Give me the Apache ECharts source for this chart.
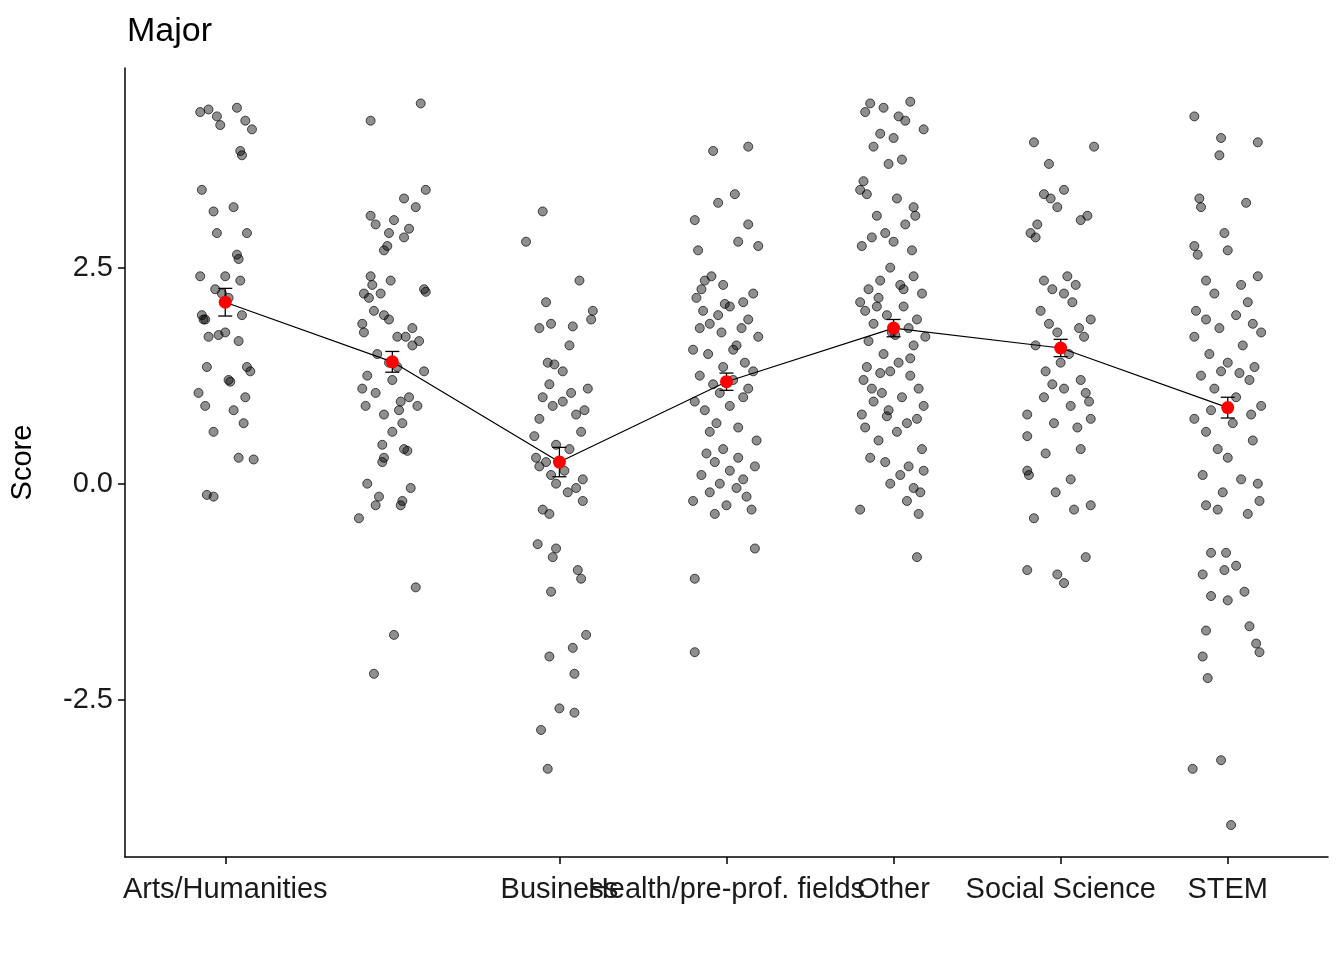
<!DOCTYPE html>
<html>
<head>
<meta charset="utf-8">
<script src="https://cdn.jsdelivr.net/npm/echarts@6/dist/echarts.min.js"></script>
<style>html,body{margin:0;background:#fff}#main{width:1344px;height:960px}</style>
</head>
<body>
<div id="main"></div>
<script>
const majors = ['Arts/Humanities', 'Biology/Life Sciences', 'Business', 'Health/pre-prof. fields', 'Other', 'Social Science', 'STEM'];
const means = [2.1, 1.41, 0.25, 1.18, 1.8, 1.57, 0.88];
const ses = [0.16, 0.12, 0.17, 0.1, 0.1, 0.1, 0.12];
const yTicks = [-2.5, 0, 2.5];

// [jitter offset, score] per major
const arts = [[-0.15,4.3],[-0.1,4.33],[-0.05,4.25],[0.07,4.35],[-0.03,4.15],[0.12,4.2],[0.16,4.1],[0.1,3.8],[0.09,3.85],[-0.14,3.4],[-0.07,3.15],[0.05,3.2],[-0.05,2.9],[0.13,2.9],[0.07,2.65],[0.08,2.6],[-0.15,2.4],[0.09,2.35],[-0.06,2.25],[-0.02,2.2],[0.02,2.15],[-0.14,1.95],[-0.13,1.9],[0.1,1.95],[-0.12,1.9],[0.0,1.75],[-0.1,1.7],[0.08,1.65],[-0.11,1.35],[0.13,1.35],[0.15,1.3],[0.02,1.2],[0.03,1.18],[-0.16,1.05],[0.12,1.0],[-0.12,0.9],[0.05,0.85],[0.11,0.7],[-0.07,0.6],[0.08,0.3],[0.17,0.28],[-0.11,-0.13],[-0.07,-0.15],[0.0,2.4],[-0.04,1.72]];
const bio = [[0.17,4.4],[-0.13,4.2],[0.2,3.4],[0.07,3.3],[0.14,3.2],[-0.13,3.1],[0.01,3.05],[-0.1,3.0],[0.1,2.95],[-0.02,2.9],[0.07,2.85],[-0.03,2.75],[-0.05,2.7],[-0.13,2.4],[-0.01,2.35],[-0.12,2.3],[0.19,2.25],[0.2,2.22],[-0.17,2.2],[-0.07,2.2],[-0.14,2.15],[-0.11,2.0],[-0.05,1.95],[-0.02,1.9],[-0.18,1.85],[0.12,1.8],[-0.17,1.75],[0.03,1.7],[0.08,1.7],[0.16,1.65],[0.12,1.6],[-0.09,1.5],[-0.02,1.4],[0.03,1.35],[0.19,1.3],[-0.15,1.25],[0.0,1.2],[-0.18,1.1],[-0.1,1.05],[0.1,1.0],[0.05,0.95],[-0.16,0.9],[0.15,0.9],[0.04,0.85],[-0.05,0.8],[0.06,0.7],[0.0,0.6],[-0.06,0.45],[0.07,0.4],[0.09,0.38],[-0.05,0.3],[-0.06,0.25],[-0.15,0.0],[0.11,-0.05],[-0.08,-0.15],[0.06,-0.2],[-0.1,-0.25],[0.05,-0.25],[-0.2,-0.4],[0.14,-1.2],[0.01,-1.75],[-0.11,-2.2]];
const business = [[-0.1,3.15],[-0.2,2.8],[0.12,2.35],[-0.08,2.1],[0.2,2.0],[0.19,1.9],[-0.05,1.85],[0.08,1.82],[-0.12,1.8],[0.06,1.6],[-0.07,1.4],[-0.03,1.38],[0.02,1.3],[-0.06,1.15],[0.17,1.1],[0.07,1.05],[-0.1,1.0],[0.02,0.95],[-0.04,0.9],[0.15,0.85],[0.1,0.8],[-0.12,0.75],[0.13,0.6],[-0.15,0.55],[-0.02,0.45],[0.06,0.4],[-0.14,0.3],[-0.08,0.25],[-0.12,0.2],[0.03,0.15],[-0.05,0.1],[0.14,0.05],[-0.02,0.0],[0.1,-0.05],[0.05,-0.1],[0.14,-0.2],[-0.1,-0.3],[-0.06,-0.35],[-0.13,-0.7],[-0.02,-0.75],[-0.04,-0.85],[0.11,-1.0],[0.13,-1.1],[-0.05,-1.25],[0.16,-1.75],[0.08,-1.9],[-0.06,-2.0],[0.09,-2.2],[0.0,-2.6],[0.09,-2.65],[-0.11,-2.85],[-0.07,-3.3]];
const health = [[-0.08,3.85],[0.13,3.9],[0.05,3.35],[-0.05,3.25],[-0.19,3.05],[0.13,3.0],[0.07,2.8],[0.19,2.75],[-0.17,2.7],[-0.09,2.4],[-0.13,2.35],[-0.02,2.3],[-0.15,2.25],[0.16,2.2],[-0.18,2.15],[0.1,2.1],[0.02,2.05],[-0.14,2.0],[-0.05,1.95],[0.13,1.9],[-0.1,1.85],[0.09,1.8],[-0.03,1.75],[0.19,1.7],[0.06,1.6],[-0.2,1.55],[-0.11,1.5],[0.11,1.4],[-0.02,1.35],[0.16,1.3],[-0.16,1.25],[0.04,1.2],[-0.08,1.15],[0.13,1.1],[-0.04,1.05],[0.1,1.0],[-0.19,0.95],[0.02,0.9],[-0.13,0.85],[-0.06,0.7],[0.07,0.65],[-0.1,0.6],[0.18,0.5],[-0.02,0.4],[-0.12,0.35],[0.07,0.3],[-0.07,0.25],[0.17,0.2],[0.02,0.15],[-0.15,0.1],[0.1,0.05],[-0.04,0.0],[0.06,-0.05],[-0.1,-0.1],[0.12,-0.15],[-0.2,-0.2],[0.0,-0.25],[0.15,-0.3],[-0.07,-0.35],[0.17,-0.75],[-0.19,-1.1],[-0.19,-1.95],[-0.01,2.08],[0.04,1.55],[-0.16,1.8]];
const other = [[-0.14,4.4],[0.1,4.42],[-0.06,4.35],[-0.17,4.3],[0.03,4.25],[0.07,4.2],[0.18,4.1],[-0.08,4.05],[0.0,4.0],[-0.12,3.9],[0.05,3.75],[-0.03,3.7],[-0.18,3.5],[-0.2,3.4],[-0.16,3.35],[0.02,3.3],[0.12,3.2],[-0.1,3.1],[0.07,3.0],[-0.05,2.9],[-0.13,2.85],[0.0,2.8],[-0.19,2.75],[0.11,2.7],[-0.02,2.5],[0.12,2.4],[-0.08,2.35],[0.04,2.3],[-0.15,2.25],[0.17,2.2],[-0.09,2.15],[-0.2,2.1],[0.06,2.05],[-0.17,2.0],[-0.04,1.95],[0.14,1.9],[-0.12,1.85],[0.09,1.8],[-0.01,1.75],[0.19,1.7],[-0.15,1.65],[0.12,1.6],[-0.06,1.5],[0.03,1.4],[-0.16,1.35],[-0.02,1.3],[0.1,1.25],[-0.18,1.2],[0.15,1.1],[-0.07,1.05],[0.05,1.0],[-0.12,0.95],[0.18,0.9],[-0.03,0.85],[-0.19,0.8],[0.14,0.75],[0.08,0.7],[-0.17,0.65],[0.02,0.6],[-0.09,0.5],[0.17,0.4],[-0.14,0.3],[-0.05,0.25],[0.09,0.2],[0.18,0.15],[0.04,0.1],[-0.02,0.0],[0.12,-0.05],[0.16,-0.1],[0.08,-0.2],[-0.2,-0.3],[0.15,-0.35],[0.14,-0.85],[-0.1,2.05],[0.01,1.72],[0.1,1.45],[-0.13,1.1],[0.06,2.25],[-0.04,0.78],[0.13,3.1],[-0.08,1.28]];
const social = [[-0.16,3.95],[0.2,3.9],[-0.07,3.7],[0.02,3.4],[-0.1,3.35],[-0.06,3.3],[-0.02,3.2],[0.16,3.1],[0.12,3.05],[-0.14,3.0],[-0.18,2.9],[-0.15,2.85],[0.04,2.4],[-0.1,2.35],[0.09,2.3],[-0.05,2.25],[0.02,2.2],[0.07,2.1],[-0.12,2.0],[0.18,1.9],[-0.07,1.85],[0.11,1.8],[-0.02,1.75],[0.14,1.7],[-0.15,1.6],[0.05,1.5],[0.0,1.4],[-0.09,1.3],[0.12,1.2],[-0.05,1.15],[0.02,1.1],[0.15,1.05],[-0.1,1.0],[0.17,0.95],[0.06,0.9],[-0.2,0.8],[0.18,0.75],[-0.04,0.7],[0.1,0.65],[-0.2,0.55],[0.12,0.4],[-0.09,0.35],[-0.2,0.15],[-0.19,0.1],[0.06,0.05],[-0.03,-0.1],[0.18,-0.25],[0.08,-0.3],[-0.16,-0.4],[0.15,-0.85],[-0.2,-1.0],[-0.02,-1.05],[0.02,-1.15]];
const stem = [[-0.2,4.25],[-0.04,4.0],[-0.05,3.8],[0.18,3.95],[-0.17,3.3],[0.11,3.25],[-0.16,3.2],[-0.02,2.9],[-0.2,2.75],[0.0,2.7],[-0.18,2.65],[0.18,2.4],[-0.13,2.35],[0.08,2.3],[-0.08,2.2],[0.12,2.1],[-0.19,2.0],[0.05,1.95],[-0.13,1.9],[0.15,1.85],[-0.05,1.8],[0.2,1.75],[-0.2,1.7],[0.09,1.6],[-0.11,1.5],[0.0,1.4],[0.16,1.35],[-0.04,1.3],[0.07,1.28],[-0.16,1.25],[0.13,1.2],[-0.08,1.1],[0.05,1.0],[0.2,0.9],[-0.1,0.85],[0.14,0.8],[-0.2,0.75],[0.03,0.7],[-0.13,0.6],[0.15,0.5],[-0.06,0.4],[0.0,0.3],[-0.15,0.1],[0.08,0.05],[0.18,0.0],[-0.03,-0.1],[0.19,-0.2],[-0.13,-0.25],[-0.06,-0.3],[0.12,-0.35],[-0.1,-0.8],[-0.01,-0.8],[0.05,-0.95],[-0.02,-1.0],[-0.15,-1.05],[0.1,-1.25],[-0.1,-1.3],[0.0,-1.35],[0.13,-1.65],[-0.13,-1.7],[0.17,-1.85],[0.19,-1.95],[-0.15,-2.0],[-0.12,-2.25],[-0.04,-3.2],[-0.21,-3.3],[0.02,-3.95]];

const groups = [arts, bio, business, health, other, social, stem];
const jitterData = [];
groups.forEach((g, i) => g.forEach(p => jitterData.push([i + p[0], p[1]])));

const font = 'Arial, Liberation Sans, sans-serif';
const chart = echarts.init(document.getElementById('main'));
chart.setOption({
  animation: false,
  title: { text: 'Major', left: 122, top: 10, textStyle: { fontSize: 34, fontWeight: 'normal', color: '#000', fontFamily: font } },
  grid: { left: 124, right: 16, top: 68, bottom: 103 },
  xAxis: {
    type: 'value', min: -0.6, max: 6.6,
    splitLine: { show: false },
    axisLine: { onZero: false, lineStyle: { color: '#000', width: 1.5 } },
    axisTick: { show: true, customValues: [0, 1, 2, 3, 4, 5, 6], length: 7, lineStyle: { color: '#000', width: 1.5 } },
    axisLabel: { customValues: [0, 1, 2, 3, 4, 5, 6], hideOverlap: false, showMinLabel: true, showMaxLabel: true, formatter: v => majors[Math.round(v)], fontSize: 29, color: '#1a1a1a', fontFamily: font, margin: 18 }
  },
  yAxis: {
    type: 'value', min: -4.32, max: 4.81,
    name: 'Score', nameLocation: 'middle', nameGap: 88, nameRotate: 90,
    nameTextStyle: { fontSize: 29, color: '#000', fontFamily: font },
    splitLine: { show: false },
    axisLine: { show: true, onZero: false, lineStyle: { color: '#000', width: 1.5 } },
    axisTick: { show: true, customValues: yTicks, length: 7, lineStyle: { color: '#000', width: 1.5 } },
    axisLabel: { customValues: yTicks, formatter: v => v.toFixed(1), fontSize: 29, color: '#1a1a1a', fontFamily: font, margin: 12 }
  },
  series: [
    {
      type: 'scatter', data: jitterData, symbolSize: 9,
      itemStyle: { color: 'rgba(0,0,0,0.55)', borderColor: 'rgba(0,0,0,0.85)', borderWidth: 1 }
    },
    {
      type: 'line', data: means.map((m, i) => [i, m]), symbol: 'none',
      lineStyle: { color: '#000', width: 1.2 }, z: 3
    },
    {
      type: 'custom', z: 4,
      data: means.map((m, i) => [i, m - ses[i], m + ses[i]]),
      renderItem: (params, api) => {
        const lo = api.coord([api.value(0), api.value(1)]);
        const hi = api.coord([api.value(0), api.value(2)]);
        const w = 7;
        const st = { stroke: '#000', lineWidth: 1.3 };
        return { type: 'group', children: [
          { type: 'line', shape: { x1: lo[0], y1: lo[1], x2: hi[0], y2: hi[1] }, style: st },
          { type: 'line', shape: { x1: lo[0] - w, y1: lo[1], x2: lo[0] + w, y2: lo[1] }, style: st },
          { type: 'line', shape: { x1: hi[0] - w, y1: hi[1], x2: hi[0] + w, y2: hi[1] }, style: st }
        ] };
      }
    },
    {
      type: 'scatter', data: means.map((m, i) => [i, m]), symbolSize: 13, z: 5,
      itemStyle: { color: '#ff0000', opacity: 1 }
    }
  ]
});
</script>
</body>
</html>
